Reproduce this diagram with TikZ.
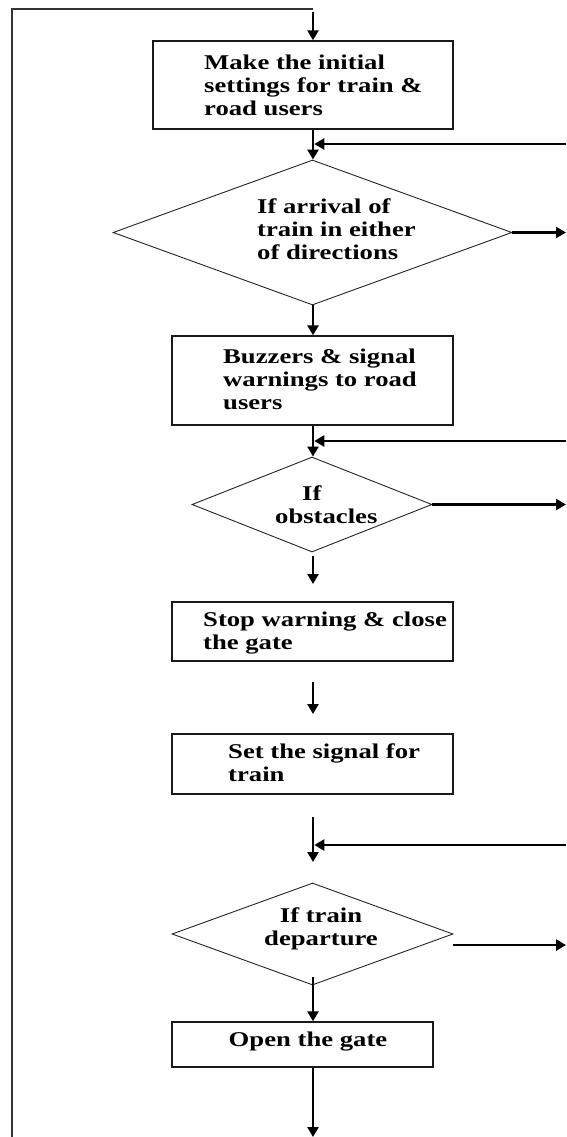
\documentclass[tikz,border=0pt]{standalone}
\usepackage{fontspec}
\newfontfamily\fcfont{Liberation Serif}[FakeStretch=1.27]
\usetikzlibrary{arrows.meta,shapes.geometric}
\begin{document}
\begin{tikzpicture}[x=1pt,y=-1pt,
  box/.style={draw=black!90, line width=1.4pt, inner sep=0pt, fill=none},
  dia/.style={draw=black!85, line width=0.9pt, shape=diamond, inner sep=0pt},
  conn/.style={draw=black, line width=2.6pt, -{Triangle[width=11pt,length=10pt]}},
  loopline/.style={draw=black!80, line width=1.5pt},
  txt/.style={font=\fcfont\bfseries\fontsize{21}{22.8}\selectfont, align=left, inner sep=0pt, anchor=north west, text=black}
]
\fill[white] (0,0) rectangle (566,1137);
\useasboundingbox (0,0) rectangle (566,1137);

% axis and free ends
\coordinate (ax) at (313,0);
\coordinate (ex) at (566,0);
\coordinate (lb) at (12,1137);
\coordinate (lt) at (313,9);
\coordinate (a0) at (313,12);
\coordinate (fb1) at (566,144);
\coordinate (fb2) at (566,441);
\coordinate (fb3) at (566,845);
\coordinate (s1) at (313,556);
\coordinate (s2) at (313,584);
\coordinate (s3) at (313,682);
\coordinate (s4) at (313,714);
\coordinate (s5) at (313,817);
\coordinate (s6) at (313,862);
\coordinate (s7) at (313,977);
\coordinate (s8) at (313,1137);

% boxes
\node[box, minimum width=300pt, minimum height=88pt] (b1) at (303,85) {};
\node[box, minimum width=281pt, minimum height=89pt] (b2) at (312.5,380.5) {};
\node[box, minimum width=281pt, minimum height=59pt] (b3) at (312.5,631.5) {};
\node[box, minimum width=281pt, minimum height=60pt] (b4) at (312.5,764) {};
\node[box, minimum width=261pt, minimum height=45pt] (b5) at (302.5,1044.5) {};

% diamonds
\node[dia, minimum width=399pt, minimum height=145pt] (d1) at (312.5,232.5) {};
\node[dia, minimum width=240pt, minimum height=95pt] (d2) at (312,504.5) {};
\node[dia, minimum width=281pt, minimum height=102pt] (d3) at (312.5,934) {};

% texts
\node[txt] (t1) at (204,55) {Make the initial\\settings for train \&\\road users};
\node[txt] (t2) at (257,199) {If arrival of\\train in either\\of directions};
\node[txt] (t3) at (223,349) {Buzzers \& signal\\warnings to road\\users};
\node[txt] (t4) at (275,486) {\hspace*{27pt}If\\obstacles};
\node[txt, anchor=north, align=center] (t5) at (321,908) {If train\\departure};
\node[txt] (t6) at (203,611.5) {Stop warning \& close\\the gate};
\node[txt] (t7) at (228,744) {Set the signal for\\train};
\node[txt, anchor=north, align=center] (t8) at (308,1031.5) {Open the gate};

% connectors
\draw[loopline] (lb) |- (lt);
\draw[conn] (a0) -- (b1.north -| ax);
\draw[conn] (b1.south -| ax) -- (d1.north -| ax);
\draw[conn] (fb1) -- ([xshift=1.3pt]ax |- fb1);
\draw[conn] (d1.east) -- (d1.east -| ex);
\draw[conn] (d1.south -| ax) -- (b2.north -| ax);
\draw[conn] (b2.south -| ax) -- (d2.north -| ax);
\draw[conn] (fb2) -- ([xshift=1.3pt]ax |- fb2);
\draw[conn] (d2.east) -- (d2.east -| ex);
\draw[conn] (s1) -- (s2);
\draw[conn] (s3) -- (s4);
\draw[conn] (s5) -- (s6);
\draw[conn] (fb3) -- ([xshift=1.3pt]ax |- fb3);
\draw[conn] ([yshift=-11pt]d3.east) -- ([yshift=-11pt]d3.east -| ex);
\draw[conn] (s7) -- (b5.north -| ax);
\draw[conn] (b5.south -| ax) -- (s8);
\end{tikzpicture}
\end{document}
